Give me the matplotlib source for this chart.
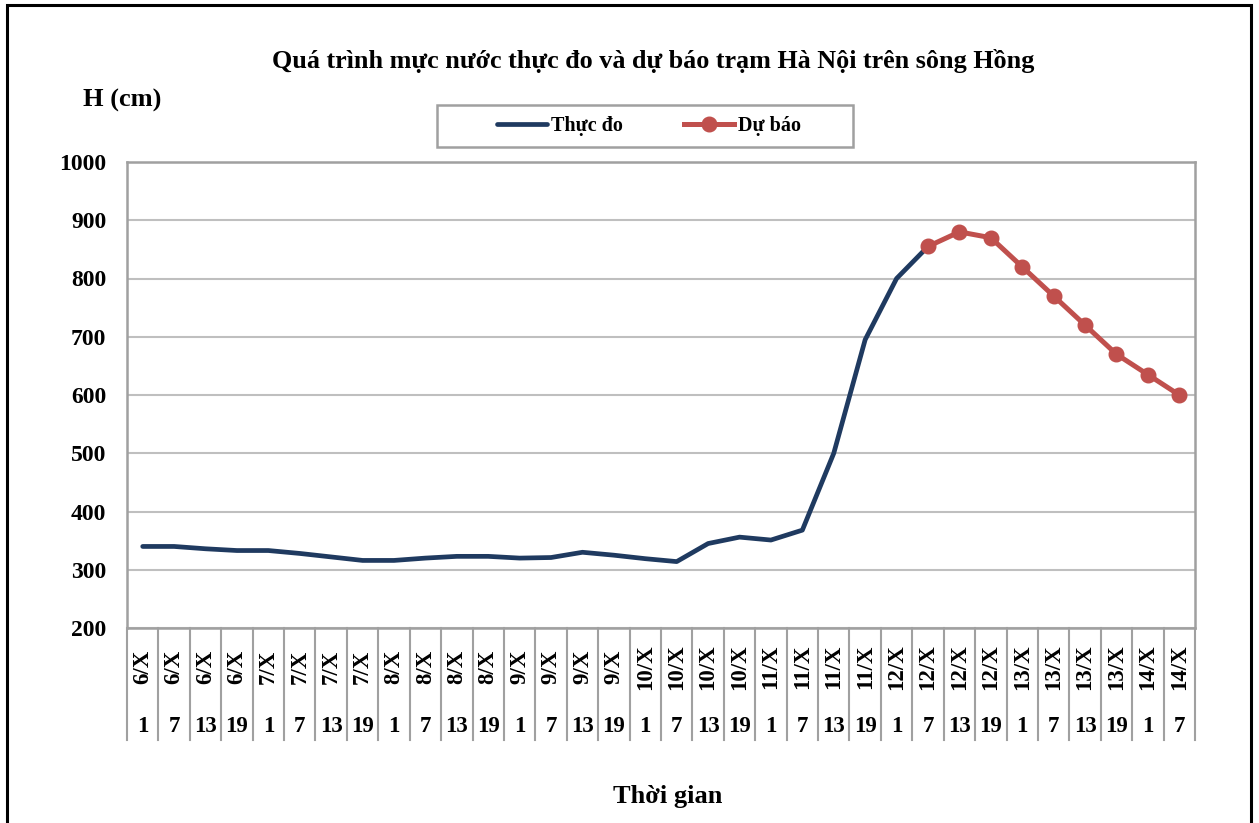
import numpy as np
import matplotlib
matplotlib.use("Agg")
import matplotlib.pyplot as plt
from matplotlib.patches import Rectangle
from matplotlib.transforms import blended_transform_factory

plt.rcParams['font.family'] = ['Liberation Serif', 'DejaVu Serif']
plt.rcParams['font.weight'] = 'bold'

# category labels (two levels)
days = ['6/X'] * 4 + ['7/X'] * 4 + ['8/X'] * 4 + ['9/X'] * 4 + ['10/X'] * 4 + \
       ['11/X'] * 4 + ['12/X'] * 4 + ['13/X'] * 4 + ['14/X'] * 2
hours = ['1', '7', '13', '19'] * 8 + ['1', '7']

# measured water level (cm), up to 12/X 7h
observed = [340, 340, 336, 333, 333, 328, 322, 316, 316, 320, 323, 323,
            320, 321, 330, 325, 319, 314, 345, 356, 351, 368, 500, 695,
            800, 855]
# forecast from 12/X 7h
forecast = [855, 880, 870, 820, 770, 720, 670, 635, 600]
forecast_start = 25

navy = '#1F3A60'
red = '#C0504D'
grid_c = '#BFBFBF'
spine_c = '#A0A0A0'

fig = plt.figure(figsize=(12.59, 8.23), dpi=100)
ax = fig.add_axes([127 / 1259, 1 - 628 / 823, 1068 / 1259, 466 / 823])

x_obs = np.arange(len(observed))
x_fc = np.arange(forecast_start, forecast_start + len(forecast))
ax.plot(x_obs, observed, color=navy, lw=3.4, solid_capstyle='round',
        label='Thực đo', zorder=3)
ax.plot(x_fc, forecast, color=red, lw=3.6, marker='o', ms=10.5,
        label='Dự báo', zorder=4)

ax.set_xlim(-0.5, len(days) - 0.5)
ax.set_ylim(200, 1000)
ax.set_yticks(np.arange(200, 1001, 100))
ax.tick_params(axis='y', length=0, pad=15, labelsize=17)
ax.tick_params(axis='x', length=0, labelbottom=False)
ax.yaxis.grid(True, color=grid_c, lw=1.5)
ax.set_axisbelow(True)
for s in ax.spines.values():
    s.set_color(spine_c)
    s.set_linewidth(1.8)
for lab in ax.get_yticklabels():
    lab.set_fontweight('bold')

# two-level category axis
trans = blended_transform_factory(ax.transData, ax.transAxes)
sep_depth = 112 / 466
for i in range(len(days) + 1):
    ax.plot([i - 0.5, i - 0.5], [0, -sep_depth], color=spine_c, lw=1.5,
            transform=trans, clip_on=False)
for i, (d, h) in enumerate(zip(days, hours)):
    ax.text(i, -39 / 466, d, transform=trans, rotation=90, ha='center',
            va='center', fontsize=16.5, fontweight='bold')
    ax.text(i, -98 / 466, h, transform=trans, ha='center', va='center',
            fontsize=16.5, fontweight='bold')

fig.text(653 / 1259, 1 - 61 / 823,
         'Quá trình mực nước thực đo và dự báo trạm Hà Nội trên sông Hồng',
         ha='center', va='center', fontsize=18.8, fontweight='bold')
fig.text(122 / 1259, 1 - 100 / 823, 'H (cm)', ha='center', va='center',
         fontsize=19, fontweight='bold')
fig.text(668 / 1259, 1 - 797 / 823, 'Thời gian', ha='center', va='center',
         fontsize=19, fontweight='bold')

leg = fig.legend(loc='center', ncol=2, bbox_to_anchor=(649 / 1259, 1 - 126 / 823),
                 prop={'weight': 'bold', 'size': 14.5},
                 handlelength=2.5, handletextpad=0.2, columnspacing=3.0,
                 frameon=False)
fig.patches.append(Rectangle((437 / 1259, 1 - 147 / 823), 416 / 1259, 42 / 823,
                             transform=fig.transFigure, fill=False,
                             edgecolor=spine_c, lw=1.8))

# outer chart frame
fig.patches.append(Rectangle((7 / 1259, -0.05), 1244 / 1259, 1.05 - 5 / 823,
                             transform=fig.transFigure, fill=False,
                             edgecolor='black', lw=2.2))

fig.savefig('out.png', dpi=100)
